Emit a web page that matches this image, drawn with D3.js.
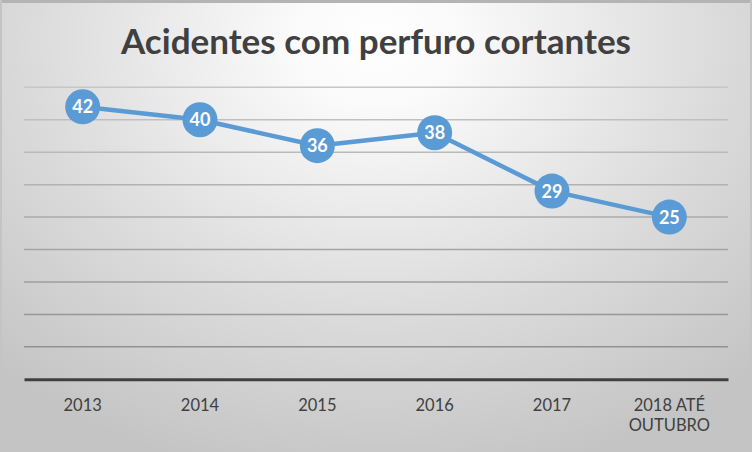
<!DOCTYPE html>
<html><head><meta charset="utf-8">
<script src="https://cdn.jsdelivr.net/npm/d3@7"></script>
<style>html,body{margin:0;padding:0;overflow:hidden;background:#fff}</style>
</head><body>
<script>
const title = "Acidentes com perfuro cortantes";
const categories = ["2013", "2014", "2015", "2016", "2017", "2018 ATÉ OUTUBRO"];
const categoryLines = [["2013"], ["2014"], ["2015"], ["2016"], ["2017"], ["2018 ATÉ", "OUTUBRO"]];
const values = [42, 40, 36, 38, 29, 25];
const yTicks = [0, 5, 10, 15, 20, 25, 30, 35, 40, 45];

(function() {
const W = 752, H = 452;
const svg = d3.select("body").append("svg").attr("width", W).attr("height", H);
const defs = svg.append("defs");
const rg = defs.append("radialGradient").attr("id", "bg")
  .attr("gradientUnits", "userSpaceOnUse")
  .attr("cx", 376).attr("cy", 40).attr("r", 560)
  .attr("gradientTransform", "translate(376,40) scale(1,0.8) translate(-376,-40)");
rg.append("stop").attr("offset", "0").attr("stop-color", "#ffffff");
rg.append("stop").attr("offset", "0.15").attr("stop-color", "#fafafa");
rg.append("stop").attr("offset", "0.6").attr("stop-color", "#dcdcdc");
rg.append("stop").attr("offset", "1").attr("stop-color", "#c4c4c4");
svg.append("rect").attr("width", W).attr("height", H).attr("fill", "url(#bg)");
svg.append("rect").attr("width", W).attr("height", 3).attr("fill", "#b4b4b4");
svg.append("rect").attr("x", 0).attr("width", 2).attr("height", H).attr("fill", "#c4c4c4");
svg.append("rect").attr("x", W - 2).attr("width", 2).attr("height", H).attr("fill", "#c4c4c4");

const pLeft = 24, pRight = 728, pTop = 87.3, pBottom = 379.3;
const x = d3.scaleBand().domain(categories).range([pLeft, pRight]);
const y = d3.scaleLinear().domain([0, 45]).range([pBottom, pTop]);
const gcol = d3.scaleLinear().domain([45, 0]).range(["#c6c6c6", "#8a8a8a"]);

svg.append("g").selectAll("line").data(yTicks.filter(d => d > 0)).join("line")
  .attr("x1", pLeft).attr("x2", pRight)
  .attr("y1", d => y(d)).attr("y2", d => y(d))
  .attr("stroke", d => gcol(d)).attr("stroke-width", 1.5);

const xAxis = svg.append("g").attr("transform", `translate(0,${pBottom})`)
  .call(d3.axisBottom(x).tickSize(0).tickFormat(""));
xAxis.select(".domain").attr("stroke", "#404040").attr("stroke-width", 3);
const lab = svg.append("g").selectAll("text").data(categories).join("text")
  .attr("x", d => x(d) + x.bandwidth() / 2)
  .attr("y", 411)
  .attr("text-anchor", "middle")
  .attr("fill", "#404040")
  .attr("font-family", "Lato, 'Open Sans', sans-serif")
  .attr("font-size", 16.5);
lab.each(function(d, i) {
  const t = d3.select(this);
  categoryLines[i].forEach((ln, j) => {
    t.append("tspan").attr("x", x(d) + x.bandwidth() / 2).attr("dy", j === 0 ? 0 : 20).text(ln);
  });
});

const tt = svg.append("text").attr("x", 376).attr("y", 54)
  .attr("text-anchor", "middle").attr("fill", "#404040")
  .attr("font-family", "Lato, 'Open Sans', sans-serif")
  .attr("font-weight", "bold").attr("font-size", 35).text(title);
tt.attr("textLength", 510).attr("lengthAdjust", "spacingAndGlyphs");

const cx = (d, i) => x(categories[i]) + x.bandwidth() / 2;
svg.append("path").datum(values)
  .attr("d", d3.line().x((d, i) => cx(d, i)).y(d => y(d)))
  .attr("fill", "none").attr("stroke", "#5b9bd5").attr("stroke-width", 4.5)
  .attr("stroke-linejoin", "round");
svg.append("g").selectAll("circle").data(values).join("circle")
  .attr("cx", (d, i) => cx(d, i)).attr("cy", d => y(d)).attr("r", 17.5)
  .attr("fill", "#5b9bd5");
svg.append("g").selectAll("text").data(values).join("text")
  .attr("x", (d, i) => cx(d, i)).attr("y", d => y(d) + 6.5)
  .attr("text-anchor", "middle").attr("fill", "#ffffff")
  .attr("font-family", "Lato, 'Open Sans', sans-serif")
  .attr("font-weight", "bold").attr("font-size", 18).text(d => d);
})();
</script>
</body></html>
